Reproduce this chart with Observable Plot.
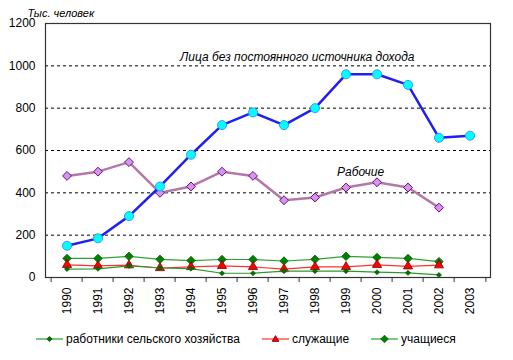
<!DOCTYPE html>
<html><head><meta charset="utf-8">
<script src="https://cdn.jsdelivr.net/npm/d3@7"></script>
<script src="https://cdn.jsdelivr.net/npm/@observablehq/plot@0.6"></script>
<style>
body{margin:0;background:#fff;font-family:"Liberation Sans",Arial,sans-serif;}
#legend{display:flex;gap:22px;padding-left:36px;margin-top:12px;font-size:12px;line-height:14px;align-items:center;}
#legend .it{display:flex;align-items:center;gap:3px;}
</style></head><body>
<div id="chart"></div>
<div id="legend"></div>
<script>
const years = ["1990","1991","1992","1993","1994","1995","1996","1997","1998","1999","2000","2001","2002","2003"];
const bezDohoda = [150,185,290,430,580,720,780,720,800,960,960,910,660,670];
const rabochie = [480,500,545,400,430,500,480,365,378,425,450,425,330,null];
const uchashchiesya = [90,90,100,86,80,85,85,78,86,100,95,90,75,null];
const sluzhashchie = [60,55,58,45,50,55,50,40,50,50,60,53,58,null];
const selkhoz = [40,41,55,45,42,20,20,30,30,30,25,22,12,null];
const yTicks = [0,200,400,600,800,1000,1200];
const gridLines = [200,400,600,800,1000];

const table = vals => years.map((y,i)=>({year:y, v:vals[i]})).filter(d=>d.v!=null);

const W = 513, H = 320, mL = 45, mR = 23, mT = 23, mB = 43;
const bw = (W - mL - mR) / years.length;

const chart = Plot.plot({
  width: W, height: H,
  marginLeft: mL, marginRight: mR, marginTop: mT, marginBottom: mB,
  style: {fontFamily: "Liberation Sans, Arial, sans-serif", fontSize: "12px", color: "#000", background: "#fff", overflow: "visible"},
  x: {type: "band", domain: years, padding: 0, axis: null},
  y: {domain: [0, 1200], axis: null},
  marks: [
    Plot.ruleY(gridLines, {stroke: "#000", strokeDasharray: "3,3", strokeWidth: 1}),
    Plot.frame({stroke: "#333", strokeWidth: 1.2}),
    Plot.axisY({ticks: yTicks, tickSize: 0, tickPadding: 10, fontSize: 12, label: null, tickFormat: d => String(d)}),
    Plot.axisX({ticks: years, tickSize: 5, tickFormat: () => "", dx: -bw/2, label: null, stroke: "#333"}),
    Plot.axisX({ticks: years.slice(-1), tickSize: 5, tickFormat: () => "", dx: bw/2, label: null, stroke: "#333"}),
    Plot.axisX({ticks: years, tickSize: 0, tickPadding: 10, tickRotate: -90, fontSize: 12, label: null}),
    // учащиеся
    Plot.line(table(uchashchiesya), {x: "year", y: "v", stroke: "#33a033", strokeWidth: 1.2}),
    Plot.dot(table(uchashchiesya), {x: "year", y: "v", symbol: "diamond2", r: 3.8, fill: "#008000", stroke: "#006000", strokeWidth: 0.8}),
    // служащие
    Plot.line(table(sluzhashchie), {x: "year", y: "v", stroke: "#ff3030", strokeWidth: 1.2}),
    Plot.dot(table(sluzhashchie), {x: "year", y: "v", symbol: "triangle", r: 3.4, fill: "#ff0000", stroke: "#800000", strokeWidth: 0.8}),
    // работники сельского хозяйства
    Plot.line(table(selkhoz), {x: "year", y: "v", stroke: "#2a9a2a", strokeWidth: 1.2}),
    Plot.dot(table(selkhoz), {x: "year", y: "v", symbol: "diamond2", r: 2.3, fill: "#007000", stroke: "#005000", strokeWidth: 0.6}),
    // Рабочие
    Plot.line(table(rabochie), {x: "year", y: "v", stroke: "#b478a8", strokeWidth: 2.5}),
    Plot.dot(table(rabochie), {x: "year", y: "v", symbol: "diamond2", r: 4, fill: "#cc99f0", stroke: "#800080", strokeWidth: 1}),
    // Лица без постоянного источника дохода
    Plot.line(table(bezDohoda), {x: "year", y: "v", stroke: "#2020f0", strokeWidth: 2.5}),
    Plot.dot(table(bezDohoda), {x: "year", y: "v", r: 4.5, fill: "#00ffff", stroke: "#3399ff", strokeWidth: 1}),
    // annotations
    Plot.text(["Лица без постоянного источника дохода"], {x: () => "1994", y: () => 1040, dx: -11, textAnchor: "start", fontStyle: "italic", fontSize: 12}),
    Plot.text(["Рабочие"], {x: () => "1999", y: () => 500, dx: -9, textAnchor: "start", fontStyle: "italic", fontSize: 12}),
    Plot.text(["Тыс. человек"], {frameAnchor: "top-left", dx: -18, dy: -14, textAnchor: "start", fontStyle: "italic", fontSize: 11})
  ]
});
document.getElementById("chart").appendChild(chart);

const legendItems = [
  {label: "работники сельского хозяйства", line: "#2a9a2a", sym: "diamond", size: 2.6, fill: "#007000", st: "#005000"},
  {label: "служащие", line: "#ff3030", sym: "triangle", size: 3.4, fill: "#ff0000", st: "#800000"},
  {label: "учащиеся", line: "#33a033", sym: "diamond", size: 3.8, fill: "#008000", st: "#006000"}
];
const lg = document.getElementById("legend");
for (const it of legendItems) {
  const d = document.createElement("div"); d.className = "it";
  let marker;
  if (it.sym === "triangle") {
    const s = it.size;
    marker = `<path d="M13.5,${7 - s} L${13.5 + s},${7 + s * 0.7} L${13.5 - s},${7 + s * 0.7} Z" fill="${it.fill}" stroke="${it.st}" stroke-width="0.8"/>`;
  } else {
    const s = it.size;
    marker = `<path d="M13.5,${7 - s} L${13.5 + s},7 L13.5,${7 + s} L${13.5 - s},7 Z" fill="${it.fill}" stroke="${it.st}" stroke-width="0.8"/>`;
  }
  d.innerHTML = `<svg width="27" height="14"><line x1="0" x2="27" y1="7" y2="7" stroke="${it.line}" stroke-width="1.2"/>${marker}</svg><span>${it.label}</span>`;
  lg.appendChild(d);
}
</script>
</body></html>
